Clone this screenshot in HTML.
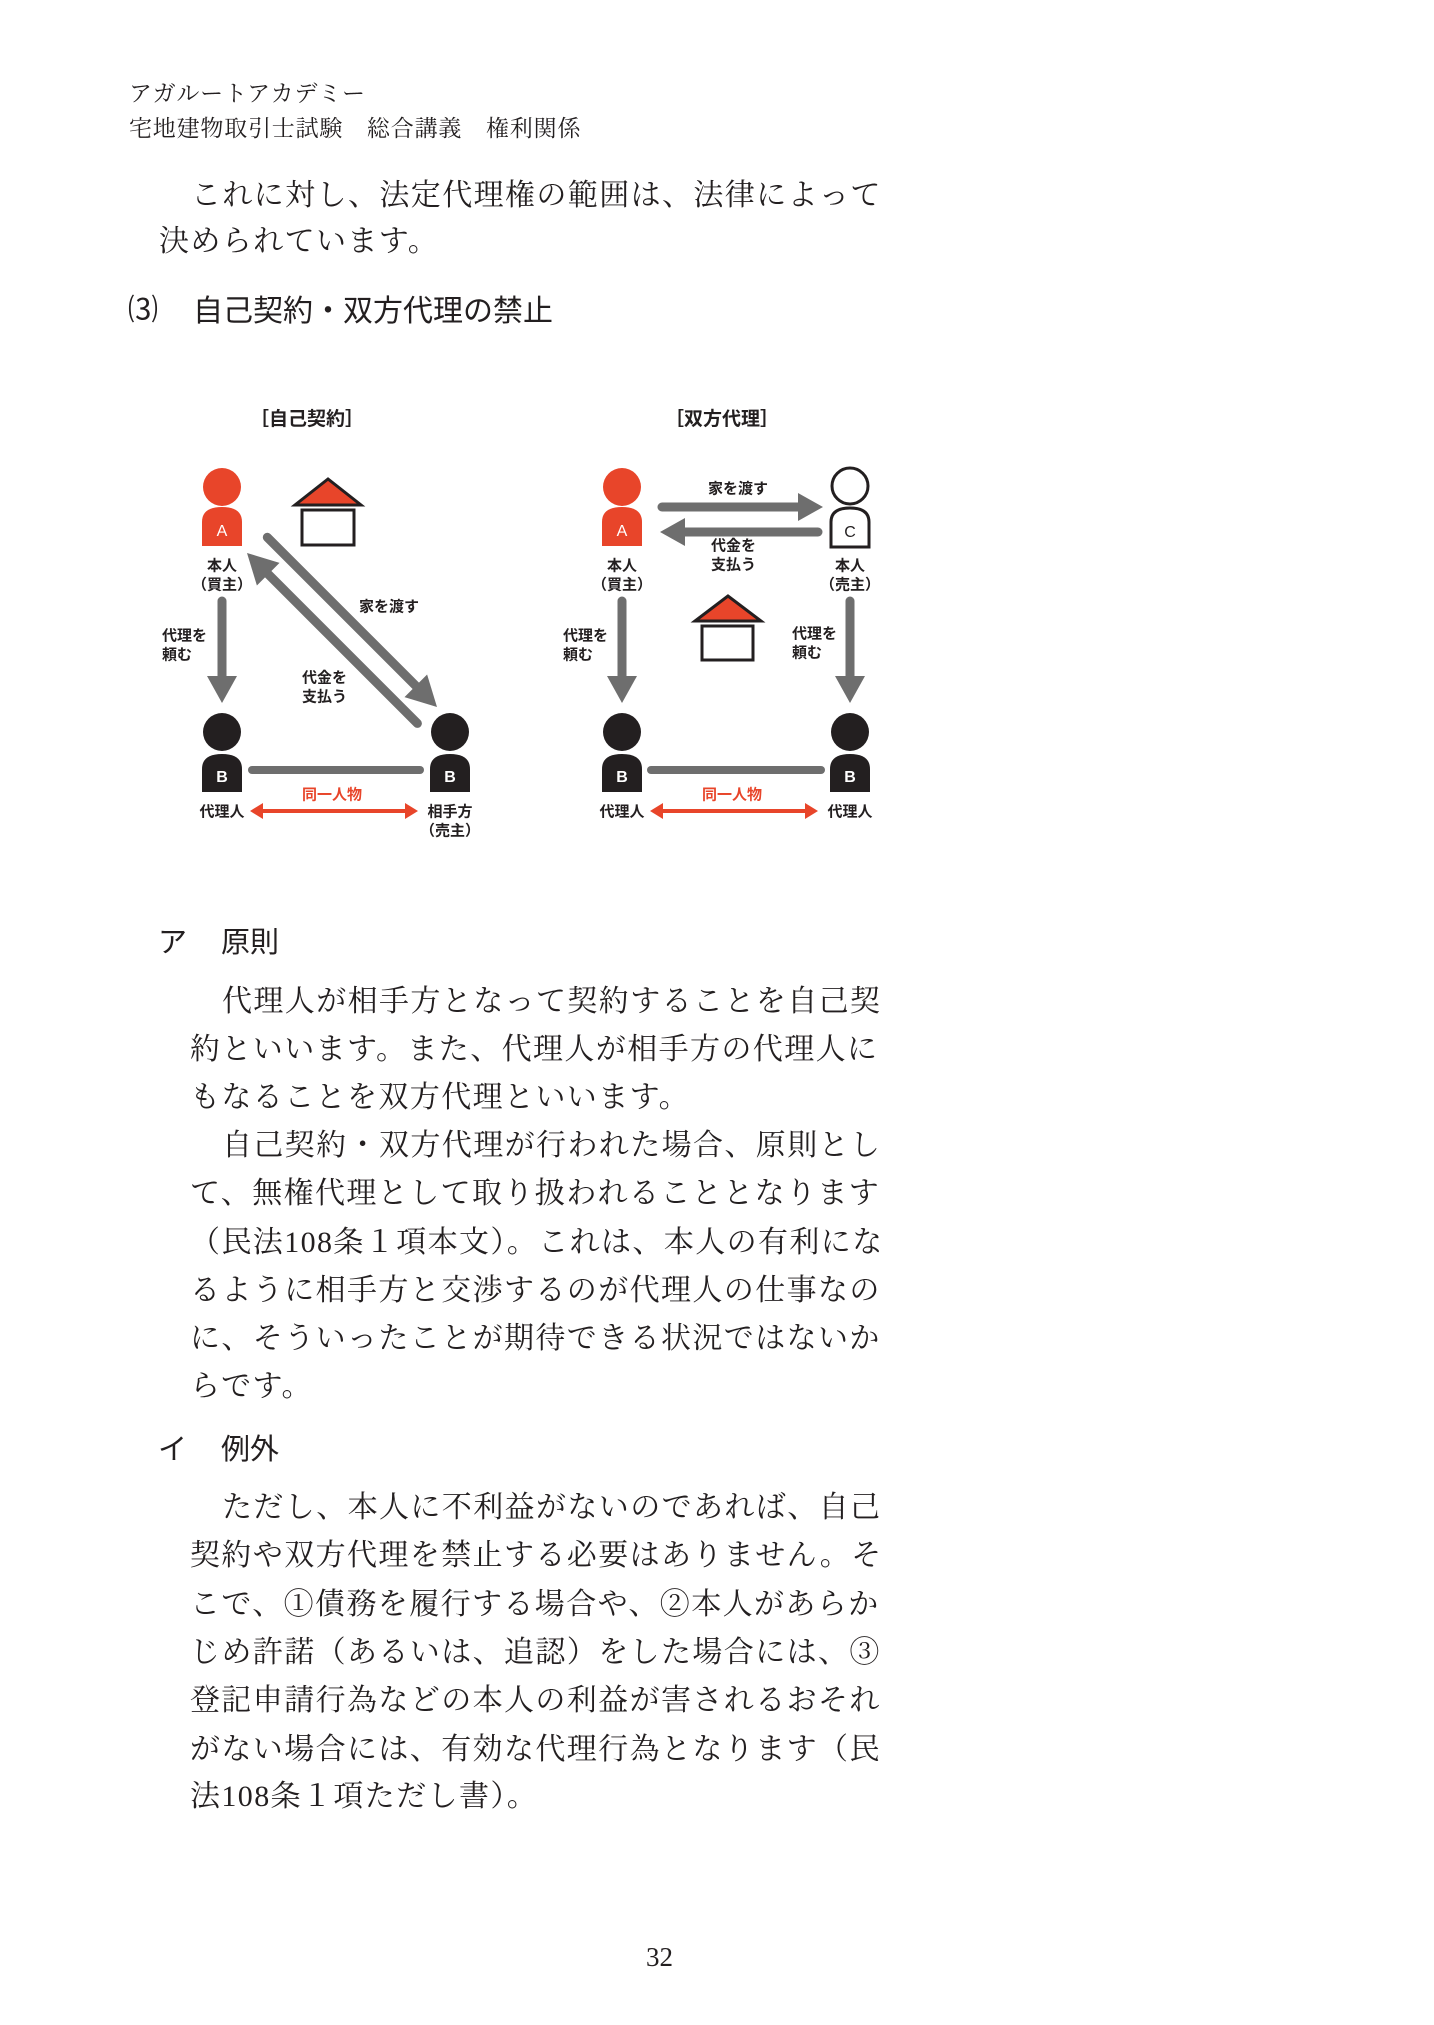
<!DOCTYPE html>
<html><head><meta charset="utf-8"><style>
html,body{margin:0;padding:0;background:#fff;}
body{width:1434px;height:2025px;position:relative;overflow:hidden;}
.t{position:absolute;white-space:nowrap;font-family:"Liberation Serif","Noto Serif CJK JP","Noto Serif CJK SC",serif;color:#231f20;line-height:1;}
.b{font-size:30px;letter-spacing:1.4px;}
.h{font-size:23px;letter-spacing:0.8px;}
.g{position:absolute;white-space:nowrap;font-family:"Liberation Sans","Noto Sans CJK JP",sans-serif;color:#231f20;line-height:1;}
svg{position:absolute;left:0;top:0;}
svg text{font-family:"Liberation Sans","Noto Sans CJK JP",sans-serif;font-weight:bold;fill:#231f20;}
</style></head><body>
<div class="t h" style="left:129px;top:82px;">アガルートアカデミー</div>
<div class="t h" style="left:129px;top:117px;">宅地建物取引士試験　総合講義　権利関係</div>

<div class="t b" style="left:191px;top:181px;">これに対し、法定代理権の範囲は、法律によって</div>
<div class="t b" style="left:159px;top:227px;">決められています。</div>

<div class="g" style="left:128px;top:296px;font-size:30px;">⑶</div>
<div class="g" style="left:193px;top:297px;font-size:30px;letter-spacing:0px;">自己契約・双方代理の禁止</div>

<svg width="1434" height="2025" viewBox="0 0 1434 2025">
<g font-size="18" text-anchor="middle">
<text x="307" y="425" font-size="19">［自己契約］</text>
<text x="722" y="425" font-size="19">［双方代理］</text>
</g>
<g fill="#e8452a">
<circle cx="222" cy="487" r="19"/><path d="M202,546 V522 Q202,507 222,507 Q242,507 242,522 V546 Z"/>
<circle cx="622" cy="487" r="19"/><path d="M602,546 V522 Q602,507 622,507 Q642,507 642,522 V546 Z"/>
</g>
<g fill="#231f20">
<circle cx="222" cy="732" r="19"/><path d="M202,792 V769 Q202,754 222,754 Q242,754 242,769 V792 Z"/>
<circle cx="450" cy="732" r="19"/><path d="M430,792 V769 Q430,754 450,754 Q470,754 470,769 V792 Z"/>
<circle cx="622" cy="732" r="19"/><path d="M602,792 V769 Q602,754 622,754 Q642,754 642,769 V792 Z"/>
<circle cx="850" cy="732" r="19"/><path d="M830,792 V769 Q830,754 850,754 Q870,754 870,769 V792 Z"/>
</g>
<g fill="#fff" stroke="#231f20" stroke-width="3">
<circle cx="850" cy="486" r="18"/><path d="M831,547 V522 Q831,508 850,508 Q869,508 869,522 V547 Z"/>
</g>
<g font-size="16" text-anchor="middle">
<text x="222" y="536" style="fill:#fff;font-weight:normal">A</text>
<text x="622" y="536" style="fill:#fff;font-weight:normal">A</text>
<text x="850" y="537" style="font-weight:normal">C</text>
<text x="222" y="782" style="fill:#fff">B</text>
<text x="450" y="782" style="fill:#fff">B</text>
<text x="622" y="782" style="fill:#fff">B</text>
<text x="850" y="782" style="fill:#fff">B</text>
</g>
<polygon points="328,479 295,505 361,505" fill="#e8452a" stroke="#231f20" stroke-width="3"/>
<rect x="302" y="510" width="52" height="35" fill="#fff" stroke="#231f20" stroke-width="3"/>
<polygon points="728,596 695,621 761,621" fill="#e8452a" stroke="#231f20" stroke-width="3"/>
<rect x="702" y="626" width="51" height="34" fill="#fff" stroke="#231f20" stroke-width="3"/>
<g stroke-linecap="round">
<g transform="translate(437,707) rotate(45)"><line x1="-240" y1="0" x2="-24" y2="0" stroke="#6e6e6e" stroke-width="9"/><polygon points="0,0 -30,-16 -30,16" fill="#6e6e6e"/></g>
<g transform="translate(247,553) rotate(225)"><line x1="-241" y1="0" x2="-24" y2="0" stroke="#6e6e6e" stroke-width="9"/><polygon points="0,0 -30,-16 -30,16" fill="#6e6e6e"/></g>
<g transform="translate(222,703) rotate(90)"><line x1="-102" y1="0" x2="-24" y2="0" stroke="#6e6e6e" stroke-width="9"/><polygon points="0,0 -27,-15 -27,15" fill="#6e6e6e"/></g>
<g transform="translate(622,703) rotate(90)"><line x1="-102" y1="0" x2="-24" y2="0" stroke="#6e6e6e" stroke-width="9"/><polygon points="0,0 -27,-15 -27,15" fill="#6e6e6e"/></g>
<g transform="translate(850,703) rotate(90)"><line x1="-102" y1="0" x2="-24" y2="0" stroke="#6e6e6e" stroke-width="9"/><polygon points="0,0 -27,-15 -27,15" fill="#6e6e6e"/></g>
<g transform="translate(823,507)"><line x1="-161" y1="0" x2="-24" y2="0" stroke="#6e6e6e" stroke-width="9"/><polygon points="0,0 -25,-14 -25,14" fill="#6e6e6e"/></g>
<g transform="translate(660,532) rotate(180)"><line x1="-158" y1="0" x2="-24" y2="0" stroke="#6e6e6e" stroke-width="9"/><polygon points="0,0 -25,-14 -25,14" fill="#6e6e6e"/></g>
<line x1="252" y1="770" x2="420" y2="770" stroke="#6e6e6e" stroke-width="8"/>
<line x1="651" y1="770" x2="821" y2="770" stroke="#6e6e6e" stroke-width="8"/>
</g>
<g fill="#e8452a">
<rect x="260" y="809" width="148" height="4"/><polygon points="250,811 263,803 263,819"/><polygon points="418,811 405,803 405,819"/>
<rect x="660" y="809" width="148" height="4"/><polygon points="650,811 663,803 663,819"/><polygon points="818,811 805,803 805,819"/>
</g>
<g font-size="15" dominant-baseline="central">
<g text-anchor="middle">
<text x="222" y="566">本人</text><text x="222" y="585">（買主）</text>
<text x="622" y="566">本人</text><text x="622" y="585">（買主）</text>
<text x="850" y="566">本人</text><text x="850" y="585">（売主）</text>
<text x="222" y="812">代理人</text>
<text x="450" y="812">相手方</text><text x="450" y="831">（売主）</text>
<text x="622" y="812">代理人</text>
<text x="850" y="812">代理人</text>
<text x="332" y="795" style="fill:#e8452a">同一人物</text>
<text x="732" y="795" style="fill:#e8452a">同一人物</text>
<text x="738" y="489">家を渡す</text>
</g>
<text x="162" y="636">代理を</text><text x="162" y="655">頼む</text>
<text x="563" y="636">代理を</text><text x="563" y="655">頼む</text>
<text x="792" y="634">代理を</text><text x="792" y="653">頼む</text>
<text x="359" y="607">家を渡す</text>
<text x="302" y="678">代金を</text><text x="302" y="697">支払う</text>
<text x="711" y="546">代金を</text><text x="711" y="565">支払う</text>
</g>
</svg>

<div class="g" style="left:158px;top:929px;font-size:29px;">ア</div>
<div class="g" style="left:221px;top:929px;font-size:29px;">原則</div>

<div class="t b" style="left:222px;top:987px;">代理人が相手方となって契約することを自己契</div>
<div class="t b" style="left:190px;top:1035px;">約といいます。また、代理人が相手方の代理人に</div>
<div class="t b" style="left:190px;top:1083px;">もなることを双方代理といいます。</div>
<div class="t b" style="left:222px;top:1131px;">自己契約・双方代理が行われた場合、原則とし</div>
<div class="t b" style="left:190px;top:1179px;">て、無権代理として取り扱われることとなります</div>
<div class="t b" style="left:190px;top:1228px;">（民法108条１項本文）。これは、本人の有利にな</div>
<div class="t b" style="left:190px;top:1276px;">るように相手方と交渉するのが代理人の仕事なの</div>
<div class="t b" style="left:190px;top:1324px;">に、そういったことが期待できる状況ではないか</div>
<div class="t b" style="left:190px;top:1372px;">らです。</div>

<div class="g" style="left:158px;top:1436px;font-size:29px;">イ</div>
<div class="g" style="left:221px;top:1436px;font-size:29px;">例外</div>

<div class="t b" style="left:222px;top:1493px;">ただし、本人に不利益がないのであれば、自己</div>
<div class="t b" style="left:190px;top:1541px;">契約や双方代理を禁止する必要はありません。そ</div>
<div class="t b" style="left:190px;top:1590px;">こで、①債務を履行する場合や、②本人があらか</div>
<div class="t b" style="left:190px;top:1638px;">じめ許諾（あるいは、追認）をした場合には、③</div>
<div class="t b" style="left:190px;top:1686px;">登記申請行為などの本人の利益が害されるおそれ</div>
<div class="t b" style="left:190px;top:1735px;">がない場合には、有効な代理行為となります（民</div>
<div class="t b" style="left:190px;top:1782px;">法108条１項ただし書）。</div>

<div class="t" style="left:646px;top:1944px;font-size:27px;">32</div>
</body></html>
